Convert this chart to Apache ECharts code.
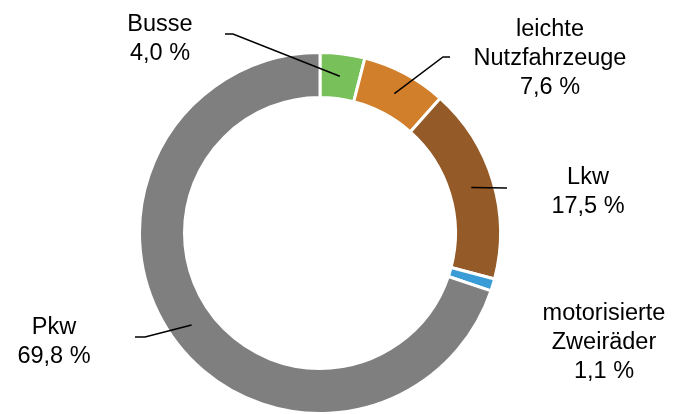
<!DOCTYPE html>
<html>
<head>
<meta charset="utf-8">
<script src="https://cdn.jsdelivr.net/npm/echarts@6/dist/echarts.min.js"></script>
<style>html,body{margin:0;padding:0;background:#fff}#c{width:673px;height:414px}</style>
</head>
<body>
<div id="c"></div>
<script>
// Data
const categories = ['Busse', 'leichte\nNutzfahrzeuge', 'Lkw', 'motorisierte\nZweiräder', 'Pkw'];
const shares = [4.0, 7.6, 17.5, 1.1, 69.8];
const colors = ['#77C05A', '#D17F2A', '#945A27', '#3A9CD6', '#7F7F7F'];

// Layout
const center = [320, 233];
const radius = [135.5, 180.5];
const anchorR = 158;
const labelPos = [[160, 39], [550, 59], [588, 192], [604, 343], [54, 342]];
const elbows = [
  [[225, 34], [233, 34]],
  [[450, 57], [443, 57]],
  [[507, 188]],
  null,
  [[135, 337], [145, 337]]
];

const total = shares.reduce((a, b) => a + b, 0);
function anchor(i) {
  let cum = 0;
  for (let k = 0; k < i; k++) cum += shares[k];
  const mid = (cum + shares[i] / 2) / total * 2 * Math.PI;
  return [center[0] + anchorR * Math.sin(mid), center[1] - anchorR * Math.cos(mid)];
}

const base = {
  type: 'pie',
  center: center,
  radius: radius,
  startAngle: 90,
  clockwise: true,
  avoidLabelOverlap: false,
  emphasis: {disabled: true},
  silent: true
};

const chart = echarts.init(document.getElementById('c'), null, {renderer: 'canvas'});
chart.setOption({
  animation: false,
  series: [
    Object.assign({}, base, {
      z: 1,
      itemStyle: {borderColor: '#fff', borderWidth: 3},
      label: {show: false},
      labelLine: {show: false},
      data: categories.map((c, i) => ({name: c, value: shares[i], itemStyle: {color: colors[i]}}))
    }),
    Object.assign({}, base, {
      z: 5,
      itemStyle: {color: 'rgba(0,0,0,0)', borderWidth: 0},
      label: {
        show: true,
        position: 'outside',
        color: '#000',
        fontFamily: 'Liberation Sans, Arial, sans-serif',
        fontSize: 23.5,
        lineHeight: 29,
        align: 'center',
        formatter: p => p.name + '\n' + p.value.toFixed(1).replace('.', ',') + ' %'
      },
      labelLine: {show: true, lineStyle: {color: '#000', width: 1.5}},
      labelLayout: function (params) {
        const i = params.dataIndex;
        const res = {x: labelPos[i][0], y: labelPos[i][1], align: 'center', verticalAlign: 'middle'};
        if (elbows[i]) {
          res.labelLinePoints = elbows[i].concat([anchor(i)]);
        }
        return res;
      },
      data: categories.map((c, i) => ({
        name: c,
        value: shares[i],
        labelLine: {show: !!elbows[i]}
      }))
    })
  ]
});
</script>
</body>
</html>
